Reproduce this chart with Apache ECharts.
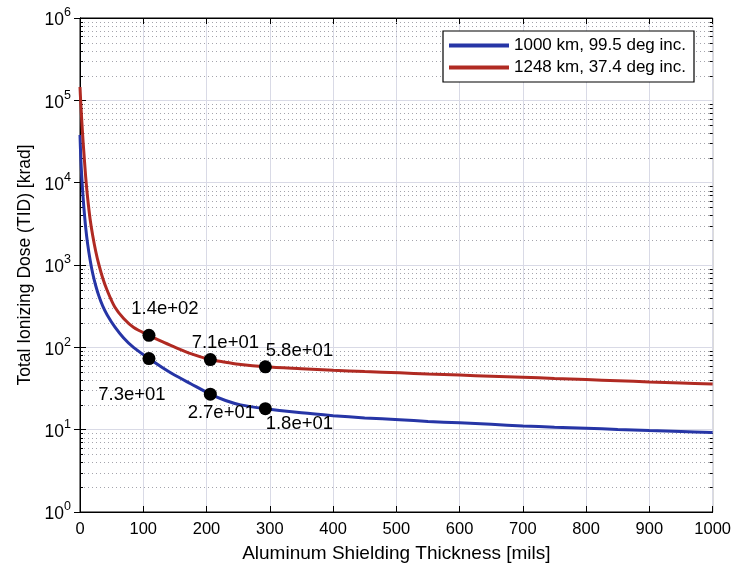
<!DOCTYPE html>
<html>
<head>
<meta charset="utf-8">
<script src="https://cdn.jsdelivr.net/npm/echarts@6/dist/echarts.min.js"></script>
<style>
  html, body { margin: 0; padding: 0; background: #fff; }
  #chart { width: 734px; height: 574px; }
</style>
</head>
<body>
<div id="chart"></div>
<script>
// Shielding thickness samples [mils]
const thickness = [0, 1, 2, 4, 6, 9, 12, 16, 20, 25, 30, 36, 43, 55, 69, 85, 109, 130, 148, 175,
  206, 230, 254, 293, 350, 400, 450, 505, 550, 600, 650, 700, 750, 800, 850, 900, 950, 1000];

// Total ionizing dose [krad], 1000 km / 99.5 deg orbit
const dosePolar = [38000, 22400, 15100, 8300, 5130, 2850, 1820, 1150, 794, 556, 417, 316, 247, 177, 130, 99, 73, 56.8, 46.7, 36.1,
  27, 22.6, 20, 18, 16, 14.8, 13.9, 13.2, 12.6, 12.1, 11.6, 11.1, 10.7, 10.4, 10.05, 9.75, 9.5, 9.25];

// Total ionizing dose [krad], 1248 km / 37.4 deg orbit
const doseInclined = [145000, 100000, 72000, 40000, 24000, 11700, 6600, 3600, 2300, 1450, 1000, 690, 490, 309, 224, 174, 140, 117, 102, 84,
  71, 66, 61.7, 58, 55, 52.7, 50.8, 49, 47.5, 46, 44.6, 43.3, 41.9, 40.6, 39.3, 38, 36.9, 35.8];

// Annotated design points
const markThickness = [109, 206, 293];
const markPolar = [73, 27, 18];
const markInclined = [140, 71, 58];

const seriesNames = ['1000 km, 99.5 deg inc.', '1248 km, 37.4 deg inc.'];
const xTickLabels = ['0', '100', '200', '300', '400', '500', '600', '700', '800', '900', '1000'];
const yDecades = [0, 1, 2, 3, 4, 5, 6];

const FONT = '"Liberation Sans", Arial, Helvetica, sans-serif';
const BLUE = '#2635a6';
const RED = '#b02a22';

// label placement around each annotated marker
const polarLabelOffsets = [[-17, 36], [11, 19], [34, 15]];
const inclinedLabelOffsets = [[16, -26], [15, -17], [34, -16]];

function expLabel(v) {
  // e.g. 140 -> "1.4e+02"
  const s = Number(v).toExponential(1);
  return s.replace(/e([+-])(\d)$/, 'e$10$2');
}

// log-decade minor lines (2..9 x 10^k)
const minorLevels = [];
yDecades.slice(0, -1).forEach(function (e) {
  for (let k = 2; k <= 9; k++) minorLevels.push([0, k * Math.pow(10, e)]);
});

const chart = echarts.init(document.getElementById('chart'), null, { renderer: 'canvas' });

const option = {
  animation: false,
  backgroundColor: '#fff',
  textStyle: { fontFamily: FONT },
  grid: {
    left: 80, right: 21, top: 18, bottom: 62,
    show: true, borderColor: '#000', borderWidth: 1, backgroundColor: '#fff'
  },
  legend: {
    left: 443, top: 31,
    orient: 'vertical',
    backgroundColor: '#fff',
    borderColor: '#000', borderWidth: 1.2,
    padding: [6, 8, 6, 6],
    itemGap: 5,
    itemWidth: 60, itemHeight: 4,
    icon: 'rect',
    textStyle: { fontFamily: FONT, fontSize: 17, color: '#000' },
    data: seriesNames
  },
  xAxis: [{
    type: 'value', min: 0, max: 1000, interval: 100, position: 'bottom',
    axisLine: { show: true, onZero: false, lineStyle: { color: '#000', width: 1 } },
    axisTick: { show: true, inside: true, length: 6, lineStyle: { color: '#000' } },
    axisLabel: {
      fontFamily: FONT, fontSize: 16.5, color: '#000', margin: 9,
      formatter: function (v) { return xTickLabels[Math.round(v / 100)]; }
    },
    splitLine: { show: true, lineStyle: { color: '#d9dae6', width: 1 } },
    name: 'Aluminum Shielding Thickness [mils]',
    nameLocation: 'middle', nameGap: 32,
    nameTextStyle: { fontFamily: FONT, fontSize: 19, color: '#000' }
  }, {
    type: 'value', min: 0, max: 1000, interval: 100, position: 'top',
    axisLine: { show: true, onZero: false, lineStyle: { color: '#000' } },
    axisTick: { show: true, inside: true, length: 6, lineStyle: { color: '#000' } },
    axisLabel: { show: false },
    splitLine: { show: false }
  }],
  yAxis: [{
    type: 'log', logBase: 10, min: 1, max: 1e6, splitNumber: 6, position: 'left',
    axisLine: { show: true, lineStyle: { color: '#000', width: 1 } },
    axisTick: { show: true, inside: true, length: 6, lineStyle: { color: '#000' } },
    axisLabel: {
      margin: 9,
      formatter: function (v) { return '{b|10}{s|' + Math.round(Math.log10(v)) + '}'; },
      rich: {
        b: { fontFamily: FONT, fontSize: 17.5, color: '#000', verticalAlign: 'bottom', padding: [5, 0, 0, 0] },
        s: { fontFamily: FONT, fontSize: 12.5, color: '#000', verticalAlign: 'top', lineHeight: 12 }
      }
    },
    splitLine: { show: true, lineStyle: { color: '#d9dae6', width: 1 } },
    name: 'Total Ionizing Dose (TID) [krad]',
    nameLocation: 'middle', nameGap: 44,
    nameTextStyle: { fontFamily: FONT, fontSize: 17.5, color: '#000' }
  }, {
    type: 'log', logBase: 10, min: 1, max: 1e6, splitNumber: 6, position: 'right',
    axisLine: { show: true, lineStyle: { color: '#000' } },
    axisTick: { show: true, inside: true, length: 6, lineStyle: { color: '#000' } },
    axisLabel: { show: false },
    splitLine: { show: false }
  }],
  series: [
    {
      // minor log grid and minor ticks on both vertical edges
      type: 'custom',
      silent: true,
      z: 1,
      xAxisIndex: 0, yAxisIndex: 0,
      data: minorLevels,
      renderItem: function (params, api) {
        const cs = params.coordSys;
        const y = Math.round(api.coord([0, api.value(1)])[1]) + 0.5;
        return {
          type: 'group',
          children: [{
            type: 'line',
            shape: { x1: cs.x, y1: y, x2: cs.x + cs.width, y2: y },
            style: { stroke: '#a4a4ac', lineWidth: 1, lineDash: [1, 3] }
          }, {
            type: 'line',
            shape: { x1: cs.x, y1: y, x2: cs.x + 3, y2: y },
            style: { stroke: '#000', lineWidth: 1 }
          }, {
            type: 'line',
            shape: { x1: cs.x + cs.width - 3, y1: y, x2: cs.x + cs.width, y2: y },
            style: { stroke: '#000', lineWidth: 1 }
          }]
        };
      }
    },
    {
      name: seriesNames[0],
      type: 'line',
      data: thickness.map(function (t, i) { return [t, dosePolar[i]]; }),
      showSymbol: false,
      smooth: 0.3,
      color: BLUE,
      lineStyle: { color: BLUE, width: 3 },
      z: 3
    },
    {
      name: seriesNames[1],
      type: 'line',
      data: thickness.map(function (t, i) { return [t, doseInclined[i]]; }),
      showSymbol: false,
      smooth: 0.3,
      color: RED,
      lineStyle: { color: RED, width: 3 },
      z: 3
    },
    {
      type: 'scatter',
      symbol: 'circle', symbolSize: 13,
      itemStyle: { color: '#000', opacity: 1 },
      z: 5,
      data: markThickness.map(function (t, i) {
        return {
          value: [t, markPolar[i]],
          label: { offset: polarLabelOffsets[i] }
        };
      }),
      label: {
        show: true, position: 'inside',
        fontFamily: FONT, fontSize: 18.5, color: '#000',
        formatter: function (p) { return expLabel(p.value[1]); }
      }
    },
    {
      type: 'scatter',
      symbol: 'circle', symbolSize: 13,
      itemStyle: { color: '#000', opacity: 1 },
      z: 5,
      data: markThickness.map(function (t, i) {
        return {
          value: [t, markInclined[i]],
          label: { offset: inclinedLabelOffsets[i] }
        };
      }),
      label: {
        show: true, position: 'inside',
        fontFamily: FONT, fontSize: 18.5, color: '#000',
        formatter: function (p) { return expLabel(p.value[1]); }
      }
    }
  ]
};

chart.setOption(option);
</script>
</body>
</html>
